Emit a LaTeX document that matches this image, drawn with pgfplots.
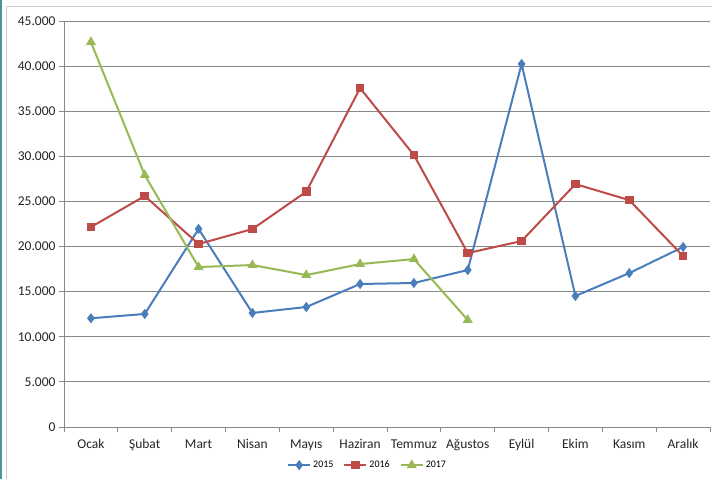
\documentclass[border=0pt]{standalone}
\usepackage{pgfplots}
\pgfplotsset{compat=1.18}
\usepackage{fontspec}
\setmainfont{Carlito}
\definecolor{c15}{HTML}{4A7EBB}
\definecolor{c16}{HTML}{BE4B48}
\definecolor{c17}{HTML}{98B954}
\definecolor{gridc}{HTML}{898989}
\definecolor{tealc}{RGB}{70,150,155}
\begin{document}
\begin{tikzpicture}
\path[use as bounding box] (0pt,0pt) rectangle (712pt,479pt);
\fill[white] (0pt,0pt) rectangle (712pt,479pt);
\draw[tealc, line width=2pt] (1pt,0pt) -- (1pt,479pt);
\draw[gray!40, line width=1pt] (6pt,0pt) -- (6pt,472pt) -- (712pt,472pt);
\begin{axis}[
  at={(64pt,52pt)}, anchor=south west,
  scale only axis, width=646pt, height=406pt,
  xmin=-0.5, xmax=11.5, ymin=0, ymax=45000,
  axis x line*=bottom, axis y line*=left,
  axis line style={-, draw=gridc, line width=0.9pt},
  ytick={0,5000,...,45000},
  ymajorgrids, grid style={gridc, line width=0.9pt},
  scaled y ticks=false,
  yticklabel style={/pgf/number format/.cd, 1000 sep={.}, assume math mode=true},
  xtick={0,...,11},
  xticklabels={Ocak,Şubat,Mart,Nisan,Mayıs,Haziran,Temmuz,Ağustos,Eylül,Ekim,Kasım,Aralık},
  minor xtick={-0.5,0.5,...,11.5},
  major x tick style={draw=none},
  tick align=outside,
  tick style={draw=gridc, line width=0.9pt},
  major tick length=5pt, minor tick length=5pt,
  tick label style={font=\fontsize{13.5}{16}\selectfont, text=black!85},
  xticklabel style={yshift=-4pt},
  legend style={at={(0.47,-0.094)}, anchor=center, draw=none, fill=none,
    legend columns=3, font=\fontsize{10}{12}\selectfont,
    /tikz/every even column/.append style={column sep=8pt}},
  legend image code/.code={\draw[mark repeat=2,mark phase=2,#1] plot coordinates {(0pt,0pt) (11pt,0pt) (22pt,0pt)};},
  every axis plot/.append style={line width=2pt},
  clip=false,
]
\addplot[c15, mark=diamond*, mark size=3.5pt, mark options={solid}] coordinates {
(0,12050) (1,12530) (2,21950) (3,12640) (4,13300) (5,15850) (6,15960) (7,17400) (8,40230) (9,14520) (10,17060) (11,19950)};
\addlegendentry{2015}
\addplot[c16, mark=square*, mark size=3.3pt] coordinates {
(0,22160) (1,25600) (2,20280) (3,21940) (4,26080) (5,37560) (6,30140) (7,19280) (8,20610) (9,26920) (10,25150) (11,18950)};
\addlegendentry{2016}
\addplot[c17, mark=triangle*, mark size=3.8pt] coordinates {
(0,42660) (1,27920) (2,17730) (3,17950) (4,16840) (5,18060) (6,18610) (7,11860)};
\addlegendentry{2017}
\end{axis}
\end{tikzpicture}
\end{document}
